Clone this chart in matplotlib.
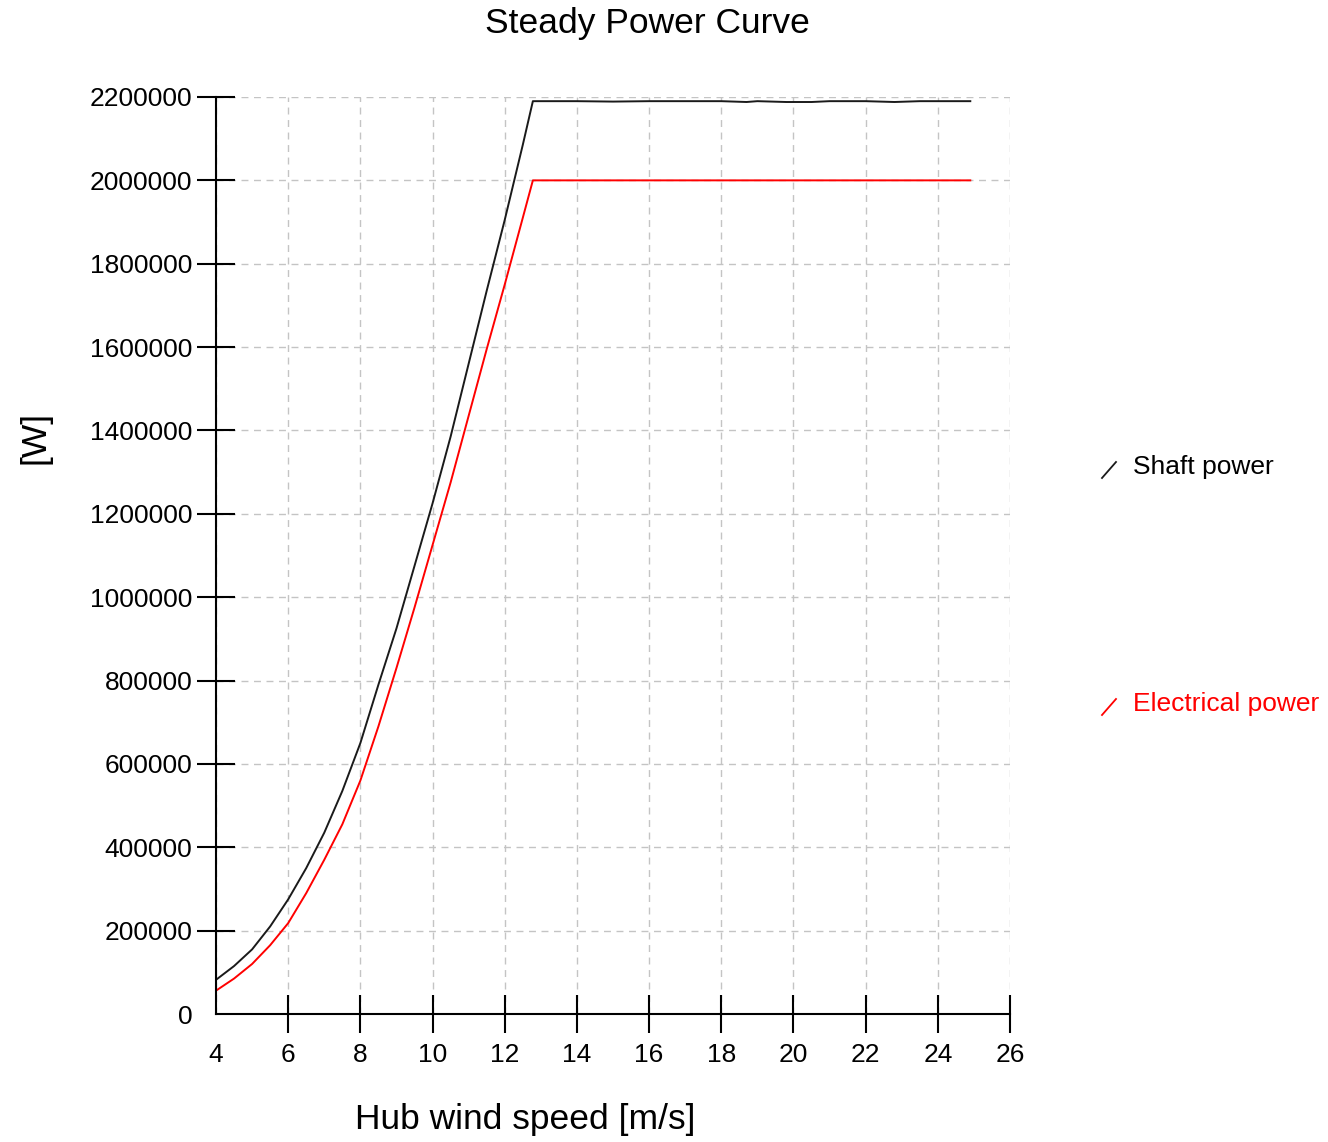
import matplotlib
matplotlib.use("Agg")
import matplotlib.pyplot as plt
from matplotlib.lines import Line2D

plt.rcParams['font.family'] = ['Liberation Sans', 'DejaVu Sans']

# data
shaft_speed = [4.0, 4.5, 5.0, 5.5, 6.0, 6.5, 7.0, 7.5, 8.0, 8.5, 9.0, 9.5, 10.0,
               10.5, 11.0, 11.5, 12.0, 12.5, 12.78, 14.0, 15.0, 16.0, 17.0, 18.0,
               18.7, 19.0, 19.8, 20.5, 21.0, 22.0, 22.8, 23.5, 24.9]
shaft_power = [82000, 115000, 155000, 210000, 275000, 350000, 435000, 535000,
               650000, 790000, 925000, 1075000, 1225000, 1385000, 1560000,
               1735000, 1905000, 2085000, 2190000, 2190000, 2189000, 2190000,
               2190000, 2190000, 2188000, 2190000, 2188000, 2188000, 2190000,
               2190000, 2188000, 2190000, 2190000]

elec_speed = [4.0, 4.5, 5.0, 5.5, 6.0, 6.5, 7.0, 7.5, 8.0, 8.5, 9.0, 9.5, 10.0,
              10.5, 11.0, 11.5, 12.0, 12.5, 12.78, 24.9]
elec_power = [56000, 85000, 120000, 165000, 218000, 290000, 370000, 455000,
              560000, 690000, 830000, 975000, 1125000, 1275000, 1435000,
              1595000, 1750000, 1910000, 2000000, 2000000]

x_ticks = list(range(4, 27, 2))
y_ticks = list(range(0, 2200001, 200000))

fig = plt.figure(figsize=(13.28, 11.42), dpi=100)
ax = fig.add_axes([216/1328, 1 - 1014/1142, 794/1328, 917/1142])

ax.plot(shaft_speed, shaft_power, color="#1a1a1a", lw=1.4)
ax.plot(elec_speed, elec_power, color="red", lw=1.4)

ax.set_xlim(4, 26)
ax.set_ylim(0, 2200000)
ax.set_xticks(x_ticks)
ax.set_yticks(y_ticks)
ax.set_xticklabels([str(v) for v in x_ticks])
ax.set_yticklabels([str(v) for v in y_ticks])

for s in ["top", "right"]:
    ax.spines[s].set_visible(False)
for s in ["left", "bottom"]:
    ax.spines[s].set_linewidth(1.5)

ax.grid(True, color="#c4c4c4", linestyle=(0, (5, 4)), linewidth=1.0)
ax.set_axisbelow(True)
ax.tick_params(direction="inout", length=28, width=1.5, labelsize=19,
               colors="black")
ax.tick_params(axis="x", pad=7)
ax.tick_params(axis="y", pad=3)
# no tick at the origin
ax.xaxis.get_major_ticks()[0].tick1line.set_visible(False)
ax.yaxis.get_major_ticks()[0].tick1line.set_visible(False)

fig.text(647/1328, 1 - 24/1142, "Steady Power Curve", ha="center",
         va="center", fontsize=25.5)
fig.text(525/1328, 1 - 1120/1142, "Hub wind speed [m/s]", ha="center",
         va="center", fontsize=25.5)
fig.text(35/1328, 1 - 437/1142, "[W]", ha="center", va="center",
         rotation=90, fontsize=25.5)

# legend
fig.add_artist(Line2D([1102/1328, 1116/1328], [1 - 478/1142, 1 - 462/1142],
                      color="#1a1a1a", lw=1.3))
fig.text(1133/1328, 1 - 467/1142, "Shaft power", ha="left", va="center",
         fontsize=19)
fig.add_artist(Line2D([1102/1328, 1116/1328], [1 - 715/1142, 1 - 699/1142],
                      color="red", lw=1.3))
fig.text(1133/1328, 1 - 704/1142, "Electrical power", ha="left", va="center",
         fontsize=19, color="red")

fig.savefig("out.png", dpi=100)
